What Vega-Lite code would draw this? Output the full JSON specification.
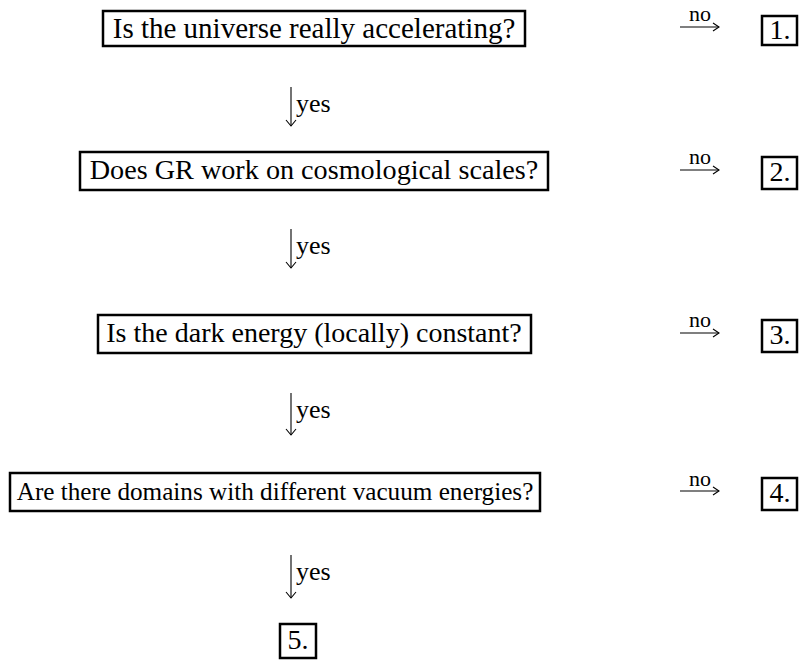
{
  "$schema": "https://vega.github.io/schema/vega-lite/v6.json",
  "width": 804,
  "height": 662,
  "padding": 0,
  "autosize": "none",
  "background": "white",
  "config": {"view": {"stroke": null}},
  "datasets": {
    "boxes": [
      {"id": "q1", "x1": 103, "x2": 525, "y1": 11, "y2": 46},
      {"id": "q2", "x1": 80, "x2": 548, "y1": 152, "y2": 190},
      {"id": "q3", "x1": 98, "x2": 531, "y1": 315, "y2": 353},
      {"id": "q4", "x1": 10, "x2": 540, "y1": 473, "y2": 511},
      {"id": "a1", "x1": 762, "x2": 797, "y1": 16, "y2": 45},
      {"id": "a2", "x1": 762, "x2": 797, "y1": 157, "y2": 189},
      {"id": "a3", "x1": 762, "x2": 797, "y1": 320, "y2": 352},
      {"id": "a4", "x1": 762, "x2": 797, "y1": 478, "y2": 510},
      {"id": "a5", "x1": 280, "x2": 316, "y1": 624, "y2": 658}
    ],
    "centered": [
      {"row": "q1", "t": "Is the universe really accelerating?", "x": 314, "y": 29},
      {"row": "q2", "t": "Does GR work on cosmological scales?", "x": 314, "y": 171},
      {"row": "q3", "t": "Is the dark energy (locally) constant?", "x": 314, "y": 334},
      {"row": "q4", "t": "Are there domains with different vacuum energies?", "x": 275, "y": 492},
      {"row": "n", "t": "1.", "x": 780, "y": 31},
      {"row": "n", "t": "2.", "x": 780, "y": 173},
      {"row": "n", "t": "3.", "x": 780, "y": 336},
      {"row": "n", "t": "4.", "x": 780, "y": 494},
      {"row": "n", "t": "5.", "x": 298, "y": 641}
    ],
    "no": [
      {"t": "no", "x": 700, "y": 14},
      {"t": "no", "x": 700, "y": 157},
      {"t": "no", "x": 700, "y": 320},
      {"t": "no", "x": 700, "y": 479}
    ],
    "yes": [
      {"t": "yes", "x": 296, "y": 104},
      {"t": "yes", "x": 296, "y": 246},
      {"t": "yes", "x": 296, "y": 410},
      {"t": "yes", "x": 296, "y": 572}
    ],
    "arrows": [
      {"seg": "d1", "o": 1, "x": 291, "y": 87},
      {"seg": "d1", "o": 2, "x": 291, "y": 126},
      {"seg": "d1h", "o": 1, "x": 286, "y": 120},
      {"seg": "d1h", "o": 2, "x": 291, "y": 126},
      {"seg": "d1h", "o": 3, "x": 296, "y": 120},
      {"seg": "d2", "o": 1, "x": 291, "y": 229},
      {"seg": "d2", "o": 2, "x": 291, "y": 268},
      {"seg": "d2h", "o": 1, "x": 286, "y": 262},
      {"seg": "d2h", "o": 2, "x": 291, "y": 268},
      {"seg": "d2h", "o": 3, "x": 296, "y": 262},
      {"seg": "d3", "o": 1, "x": 291, "y": 393},
      {"seg": "d3", "o": 2, "x": 291, "y": 435},
      {"seg": "d3h", "o": 1, "x": 286, "y": 429},
      {"seg": "d3h", "o": 2, "x": 291, "y": 435},
      {"seg": "d3h", "o": 3, "x": 296, "y": 429},
      {"seg": "d4", "o": 1, "x": 291, "y": 555},
      {"seg": "d4", "o": 2, "x": 291, "y": 598},
      {"seg": "d4h", "o": 1, "x": 286, "y": 592},
      {"seg": "d4h", "o": 2, "x": 291, "y": 598},
      {"seg": "d4h", "o": 3, "x": 296, "y": 592},
      {"seg": "r1", "o": 1, "x": 680, "y": 27},
      {"seg": "r1", "o": 2, "x": 719, "y": 27},
      {"seg": "r1h", "o": 1, "x": 713, "y": 23},
      {"seg": "r1h", "o": 2, "x": 719, "y": 27},
      {"seg": "r1h", "o": 3, "x": 713, "y": 31},
      {"seg": "r2", "o": 1, "x": 680, "y": 170},
      {"seg": "r2", "o": 2, "x": 719, "y": 170},
      {"seg": "r2h", "o": 1, "x": 713, "y": 166},
      {"seg": "r2h", "o": 2, "x": 719, "y": 170},
      {"seg": "r2h", "o": 3, "x": 713, "y": 174},
      {"seg": "r3", "o": 1, "x": 680, "y": 333},
      {"seg": "r3", "o": 2, "x": 719, "y": 333},
      {"seg": "r3h", "o": 1, "x": 713, "y": 329},
      {"seg": "r3h", "o": 2, "x": 719, "y": 333},
      {"seg": "r3h", "o": 3, "x": 713, "y": 337},
      {"seg": "r4", "o": 1, "x": 680, "y": 491},
      {"seg": "r4", "o": 2, "x": 719, "y": 491},
      {"seg": "r4h", "o": 1, "x": 713, "y": 487},
      {"seg": "r4h", "o": 2, "x": 719, "y": 491},
      {"seg": "r4h", "o": 3, "x": 713, "y": 495}
    ]
  },
  "layer": [
    {
      "data": {"name": "boxes"},
      "mark": {"type": "rect", "fill": "white", "stroke": "black", "strokeWidth": 2.5},
      "encoding": {
        "x": {"field": "x1", "type": "quantitative", "scale": {"domain": [0, 804], "nice": false, "zero": false}, "axis": null},
        "x2": {"field": "x2"},
        "y": {"field": "y1", "type": "quantitative", "scale": {"domain": [0, 662], "nice": false, "zero": false, "reverse": true}, "axis": null},
        "y2": {"field": "y2"}
      }
    },
    {
      "data": {"name": "arrows"},
      "mark": {"type": "line", "stroke": "black", "strokeWidth": 1.1},
      "encoding": {
        "x": {"field": "x", "type": "quantitative", "axis": null},
        "y": {"field": "y", "type": "quantitative", "axis": null},
        "detail": {"field": "seg"},
        "order": {"field": "o"}
      }
    },
    {
      "data": {"name": "centered"},
      "mark": {"type": "text", "font": "Liberation Serif", "color": "black", "align": "center", "baseline": "middle"},
      "encoding": {
        "x": {"field": "x", "type": "quantitative", "axis": null},
        "y": {"field": "y", "type": "quantitative", "axis": null},
        "text": {"field": "t"},
        "size": {"field": "row", "type": "nominal", "legend": null, "scale": {"type": "ordinal", "domain": ["q1", "q2", "q3", "q4", "n"], "range": [29, 28.2, 28, 25.2, 28]}}
      }
    },
    {
      "data": {"name": "no"},
      "mark": {"type": "text", "font": "Liberation Serif", "fontSize": 22, "color": "black", "align": "center", "baseline": "middle"},
      "encoding": {
        "x": {"field": "x", "type": "quantitative", "axis": null},
        "y": {"field": "y", "type": "quantitative", "axis": null},
        "text": {"field": "t"}
      }
    },
    {
      "data": {"name": "yes"},
      "mark": {"type": "text", "font": "Liberation Serif", "fontSize": 26, "color": "black", "align": "left", "baseline": "middle"},
      "encoding": {
        "x": {"field": "x", "type": "quantitative", "axis": null},
        "y": {"field": "y", "type": "quantitative", "axis": null},
        "text": {"field": "t"}
      }
    }
  ]
}
